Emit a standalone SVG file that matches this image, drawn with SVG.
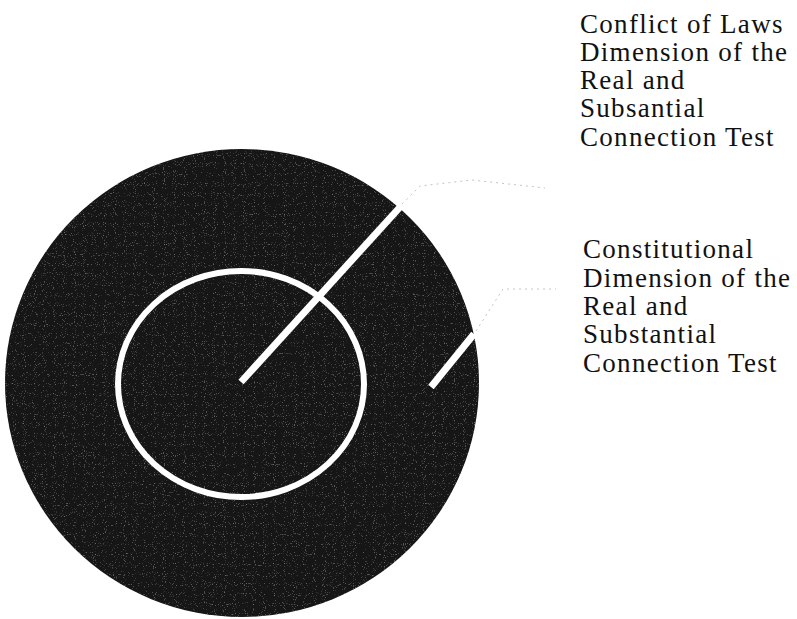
<svg xmlns="http://www.w3.org/2000/svg" width="797" height="619" viewBox="0 0 797 619">
  <style>
    .lbl { font-family: "Liberation Serif", "Times New Roman", serif; font-size: 27px; fill: #111; letter-spacing: 1.3px; }
    .ptr { stroke: #fff; stroke-width: 7; fill: none; stroke-linecap: butt; }
    .lead { stroke: #c4c4c4; stroke-width: 1; fill: none; stroke-dasharray: 2 4; }
  </style>
  <defs>
    <filter id="grain" x="0" y="0" width="100%" height="100%">
      <feTurbulence type="fractalNoise" baseFrequency="0.9" numOctaves="1" seed="3" result="n"/>
      <feColorMatrix in="n" type="matrix" values="0 0 0 0 0.5  0 0 0 0 0.5  0 0 0 0 0.5  0 0 0 1.6 -1.0" result="g"/>
      <feComposite in="g" in2="SourceGraphic" operator="in" result="gc"/>
      <feMerge><feMergeNode in="SourceGraphic"/><feMergeNode in="gc"/></feMerge>
    </filter>
  </defs>
  <rect width="797" height="619" fill="#fff"/>

  <g id="outer-circle">
    <ellipse cx="242" cy="383" rx="237" ry="234" fill="#141414" filter="url(#grain)"/>
  </g>
  <g id="inner-circle">
    <ellipse cx="241" cy="384" rx="123" ry="113" fill="none" stroke="#fff" stroke-width="6"/>
  </g>

  <g id="connectors">
    <line class="ptr" x1="241" y1="382" x2="401" y2="206"/>
    <polyline class="lead" points="402,204 420,186 472,180 545,188"/>
    <line class="ptr" x1="431" y1="387" x2="474" y2="334"/>
    <polyline class="lead" points="476,331 503,289 556,289"/>
  </g>

  <g id="label-conflict">
    <text class="lbl" x="580" y="33">Conflict of Laws</text>
    <text class="lbl" x="580" y="61">Dimension of the</text>
    <text class="lbl" x="580" y="89">Real and</text>
    <text class="lbl" x="580" y="117">Subsantial</text>
    <text class="lbl" x="580" y="146">Connection Test</text>
  </g>
  <g id="label-constitutional">
    <text class="lbl" x="583" y="258">Constitutional</text>
    <text class="lbl" x="583" y="287">Dimension of the</text>
    <text class="lbl" x="583" y="315">Real and</text>
    <text class="lbl" x="583" y="343">Substantial</text>
    <text class="lbl" x="583" y="372">Connection Test</text>
  </g>
</svg>
